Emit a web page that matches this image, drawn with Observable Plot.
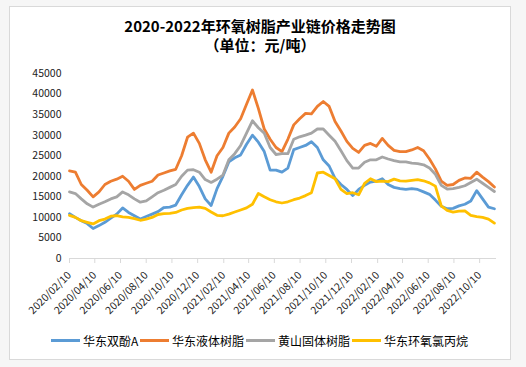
<!DOCTYPE html>
<html><head><meta charset="utf-8">
<script src="https://cdn.jsdelivr.net/npm/d3@7"></script>
<script src="https://cdn.jsdelivr.net/npm/@observablehq/plot@0.6"></script>
<style>
html,body{margin:0;padding:0;background:#f6f6f6;width:526px;height:367px;overflow:hidden;font-family:"Noto Sans CJK SC",sans-serif;}
#box{position:absolute;left:9px;top:6px;width:500px;height:352px;background:#fff;border:1px solid #d9d9d9;}
.t{position:absolute;left:10px;width:500px;text-align:center;font-weight:bold;font-size:15px;color:#000;line-height:18px;}
#t1{top:17px}
#t2{top:36px}
#chart{position:absolute;left:0;top:0}
.item{position:absolute;top:332px;height:16px;display:flex;align-items:center;font-size:12px;color:#000;white-space:nowrap}
.sw{display:inline-block;width:29px;height:3px;margin-right:3px}
</style></head><body>
<div id="box"></div>
<div class="t" id="t1">2020-2022年环氧树脂产业链价格走势图</div>
<div class="t" id="t2">（单位：元/吨）</div>
<div id="chart"></div>
<div id="legend"></div>
<script>
const dates = [
"2020-02-10","2020-02-24","2020-03-09","2020-03-23","2020-04-06","2020-04-20","2020-05-04","2020-05-18","2020-06-01","2020-06-15","2020-06-29","2020-07-13","2020-07-27","2020-08-10","2020-08-24","2020-09-07","2020-09-21","2020-10-05","2020-10-19","2020-11-02","2020-11-16","2020-11-30","2020-12-14","2020-12-28",
"2021-01-11","2021-01-25","2021-02-08","2021-02-22","2021-03-08","2021-03-22","2021-04-05","2021-04-19","2021-05-03","2021-05-17","2021-05-31","2021-06-14","2021-06-28","2021-07-12","2021-07-26","2021-08-09","2021-08-23","2021-09-06","2021-09-20","2021-10-04","2021-10-18","2021-11-01","2021-11-15","2021-11-29","2021-12-13","2021-12-27",
"2022-01-10","2022-01-24","2022-02-07","2022-02-21","2022-03-07","2022-03-21","2022-04-04","2022-04-18","2022-05-02","2022-05-16","2022-05-30","2022-06-13","2022-06-27","2022-07-11","2022-07-25","2022-08-08","2022-08-22","2022-09-05","2022-09-19","2022-10-03","2022-10-17","2022-10-31","2022-11-14"];

const bpa = [10900,10000,9200,8500,7300,8000,8800,9800,10800,12300,11200,10400,9600,10200,10800,11400,12400,12500,13000,15500,17800,19800,17500,14500,12900,17000,20000,23500,24500,25200,27800,30000,28300,26000,21500,21500,21000,22000,26500,27000,27500,28400,27000,24000,22500,19500,18000,16800,15300,16800,17800,18600,18800,19400,18000,17300,17000,16800,17000,16800,16200,15600,14200,12700,12100,12200,12800,13200,14000,16500,14500,12500,12100];
const liquidResin = [21300,21000,18000,16600,15000,16200,18000,18800,19300,20000,18800,16800,17800,18300,18800,20300,20800,21300,21700,25000,29500,30500,28000,24000,21000,25000,27000,30500,32000,34000,37500,41000,36500,31500,29000,27000,26000,29000,32500,34000,35300,35200,37000,38200,37000,33300,31000,28500,26800,25800,27500,28000,27300,29200,27500,26300,26000,26000,26400,27000,26200,24200,21800,18800,17800,18000,19000,19600,19500,21000,19800,18700,17400];
const solidResin = [16200,15800,14500,13300,12500,13200,13800,14500,15000,16200,15500,14500,13700,14000,15000,16000,16600,17300,18000,20000,21500,21600,21000,19200,18500,19300,20300,24000,25500,27500,30500,33500,31800,30500,27000,25300,25500,25500,29000,29600,30000,30500,31500,31500,30000,28500,26200,23800,22000,22000,23400,24000,24000,24700,24200,23800,23500,23500,23200,23100,22800,22000,20500,17800,16900,17000,17300,17700,18500,19300,18300,17300,16300];
const ech = [10500,10000,9200,8800,8400,9200,9600,10300,10400,10100,10000,9700,9300,9600,10000,10700,10900,11000,11200,11800,12200,12400,12500,12200,11300,10500,10400,10800,11300,11800,12300,13200,15800,15000,14300,13800,13500,13800,14300,14700,15300,16000,20800,21000,20200,19400,16800,15800,16000,15500,18300,19400,18700,18800,18700,19300,18900,18800,19000,19200,18900,18400,17600,12800,11700,11300,11500,11600,10500,10200,10000,9600,8600];

const seriesNames = ["华东双酚A","华东液体树脂","黄山固体树脂","华东环氧氯丙烷"];
const seriesColors = ["#5B9BD5","#ED7D31","#A5A5A5","#FFC000"];
const xTickLabels = ["2020/02/10","2020/04/10","2020/06/10","2020/08/10","2020/10/10","2020/12/10","2021/02/10","2021/04/10","2021/06/10","2021/08/10","2021/10/10","2021/12/10","2022/02/10","2022/04/10","2022/06/10","2022/08/10","2022/10/10"];
const yTicks = [0,5000,10000,15000,20000,25000,30000,35000,40000,45000];
const xDomain = ["2020-02-10","2022-11-19"];

const seriesValues = [bpa, liquidResin, solidResin, ech];
const parseISO = d3.utcParse("%Y-%m-%d");
const parseTick = d3.utcParse("%Y/%m/%d");
const data = [];
seriesValues.forEach((vals, s) => vals.forEach((v, i) => data.push({date: parseISO(dates[i]), value: v, series: seriesNames[s]})));

const chart = Plot.plot({
  width: 526, height: 367,
  marginLeft: 69, marginRight: 30, marginTop: 73, marginBottom: 109,
  style: {background: "transparent", fontFamily: "'Noto Sans CJK SC', sans-serif", fontSize: "10.5px", color: "#222", overflow: "visible"},
  x: {type: "utc", domain: xDomain.map(parseISO)},
  y: {domain: [0, 45000]},
  color: {domain: seriesNames, range: seriesColors},
  marks: [
    Plot.ruleY([0], {stroke: "#d9d9d9"}),
    Plot.axisY({ticks: yTicks, tickFormat: d => String(d), tickSize: 0, tickPadding: 8, label: null, fill: "#222"}),
    Plot.axisX({ticks: xTickLabels.map(parseTick), tickFormat: d3.utcFormat("%Y/%m/%d"), tickRotate: -45, tickSize: 5, tickPadding: 10, stroke: "#d9d9d9", fill: "#222", label: null}),
    Plot.line(data, {x: "date", y: "value", z: "series", stroke: "series", strokeWidth: 2.8, strokeLinejoin: "round"})
  ]
});
document.getElementById("chart").appendChild(chart);

const legendX = [51, 140, 246, 352];
const legend = document.getElementById("legend");
seriesNames.forEach((n, i) => {
  const it = document.createElement("div");
  it.className = "item";
  it.style.left = legendX[i] + "px";
  it.innerHTML = `<span class="sw" style="background:${seriesColors[i]}"></span><span>${n}</span>`;
  legend.appendChild(it);
});
</script>
</body></html>
